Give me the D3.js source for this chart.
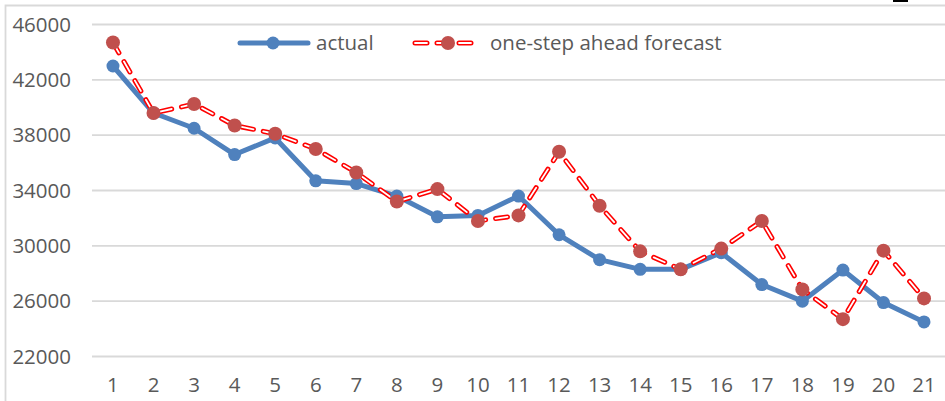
<!DOCTYPE html>
<html>
<head>
<meta charset="utf-8">
<script src="https://cdn.jsdelivr.net/npm/d3@7"></script>
<style>
  body { margin: 0; background: #fff; }
  svg { display: block; font-family: "Open Sans", "Noto Sans", sans-serif; }
</style>
</head>
<body>
<script>
// chart data
var periods = d3.range(1, 22);
var actual = [43000, 39600, 38500, 36600, 37800, 34700, 34500, 33600, 32100, 32200,
              33600, 30800, 29000, 28300, 28300, 29500, 27200, 26000, 28250, 25900, 24500];
var forecast = [44700, 39600, 40250, 38700, 38100, 37000, 35300, 33200, 34100, 31800,
                32200, 36800, 32900, 29600, 28300, 29800, 31800, 26850, 24700, 29650, 26200];
var yTicks = [22000, 26000, 30000, 34000, 38000, 42000, 46000];
var seriesNames = ["actual", "one-step ahead forecast"];

var width = 945, height = 401;
var fontSize = "20.5px";

var svg = d3.select("body").append("svg")
    .attr("width", width)
    .attr("height", height);

// chart frame (only top and left edges are visible)
svg.append("path")
    .attr("d", "M5.5," + height + "V5.5H" + width)
    .attr("fill", "none")
    .attr("stroke", "#d9d9d9")
    .attr("stroke-width", 1.8);

// little dark mark at the top edge
svg.append("rect")
    .attr("x", 893).attr("y", 0)
    .attr("width", 15).attr("height", 2)
    .attr("fill", "#000");

var x = d3.scaleBand()
    .domain(periods)
    .range([92.7, 944.3]);

var y = d3.scaleLinear()
    .domain([22000, 46000])
    .range([356.5, 24.5]);

// gridlines
svg.append("g")
    .selectAll("line")
    .data(yTicks)
    .join("line")
    .attr("x1", 92)
    .attr("x2", width)
    .attr("y1", function(d){ return y(d); })
    .attr("y2", function(d){ return y(d); })
    .attr("stroke", "#d9d9d9")
    .attr("stroke-width", 1.8);

// y axis labels
var yAxis = svg.append("g")
    .attr("transform", "translate(80,0)")
    .call(d3.axisLeft(y).tickValues(yTicks).tickSize(0).tickPadding(9).tickFormat(d3.format("d")));
yAxis.select(".domain").remove();
yAxis.selectAll("text")
    .attr("fill", "#595959")
    .style("font-size", fontSize)
    .style("font-family", "'Open Sans', sans-serif");

// x axis labels
var xAxis = svg.append("g")
    .attr("transform", "translate(0,377)")
    .call(d3.axisBottom(x).tickSize(0).tickPadding(0));
xAxis.select(".domain").remove();
xAxis.selectAll("text")
    .attr("fill", "#595959")
    .attr("dy", "0.71em")
    .style("font-size", fontSize)
    .style("font-family", "'Open Sans', sans-serif");

var cx = function(d, i){ return x(periods[i]) + x.bandwidth() / 2; };

var line = d3.line()
    .x(cx)
    .y(function(d){ return y(d); });

// actual series
svg.append("path")
    .datum(actual)
    .attr("d", line)
    .attr("fill", "none")
    .attr("stroke", "#4f81bd")
    .attr("stroke-width", 5)
    .attr("stroke-linejoin", "round")
    .attr("stroke-linecap", "round");

// forecast series: red outlined dashes with white core
var dash = "12,10";
svg.append("path")
    .datum(forecast)
    .attr("d", line)
    .attr("fill", "none")
    .attr("stroke", "#ff0000")
    .attr("stroke-width", 5)
    .attr("stroke-dasharray", dash)
    .attr("stroke-linecap", "round");
svg.append("path")
    .datum(forecast)
    .attr("d", line)
    .attr("fill", "none")
    .attr("stroke", "#fff")
    .attr("stroke-width", 1.8)
    .attr("stroke-dasharray", dash)
    .attr("stroke-linecap", "round");

// markers
svg.append("g")
    .selectAll("circle")
    .data(actual)
    .join("circle")
    .attr("cx", cx)
    .attr("cy", function(d){ return y(d); })
    .attr("r", 6.5)
    .attr("fill", "#4f81bd");

svg.append("g")
    .selectAll("circle")
    .data(forecast)
    .join("circle")
    .attr("cx", cx)
    .attr("cy", function(d){ return y(d); })
    .attr("r", 7)
    .attr("fill", "#c0504d");

// legend
var legend = svg.append("g").attr("transform", "translate(0,43)");

legend.append("line")
    .attr("x1", 240).attr("x2", 308)
    .attr("stroke", "#4f81bd").attr("stroke-width", 5)
    .attr("stroke-linecap", "round");
legend.append("circle")
    .attr("cx", 273).attr("r", 6.5).attr("fill", "#4f81bd");
legend.append("text")
    .attr("x", 316).attr("dy", "0.35em")
    .attr("fill", "#595959")
    .style("font-size", fontSize)
    .text(seriesNames[0]);

legend.append("path")
    .attr("d", "M415,0H475")
    .attr("stroke", "#ff0000").attr("stroke-width", 5)
    .attr("stroke-dasharray", "12,10")
    .attr("stroke-linecap", "round");
legend.append("path")
    .attr("d", "M415,0H475")
    .attr("stroke", "#fff").attr("stroke-width", 1.8)
    .attr("stroke-dasharray", "12,10")
    .attr("stroke-linecap", "round");
legend.append("circle")
    .attr("cx", 448).attr("r", 7).attr("fill", "#c0504d");
legend.append("text")
    .attr("x", 490).attr("dy", "0.35em")
    .attr("fill", "#595959")
    .style("font-size", fontSize)
    .text(seriesNames[1]);
</script>
</body>
</html>
